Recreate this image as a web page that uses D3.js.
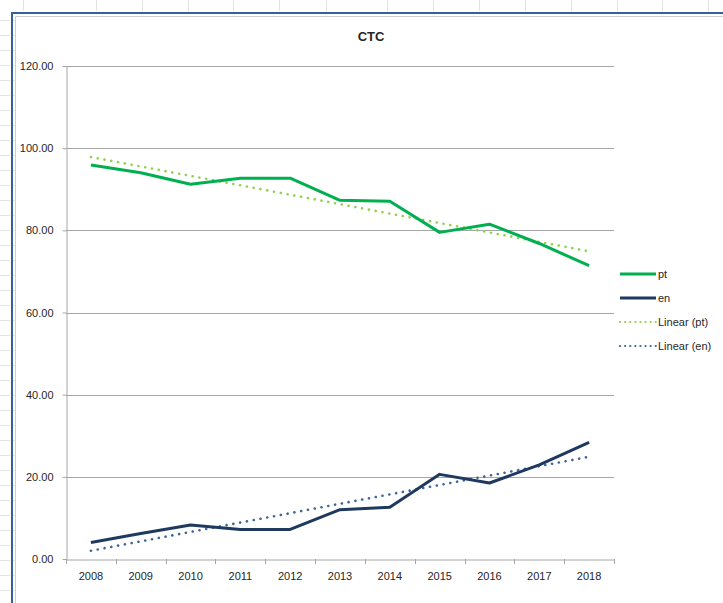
<!DOCTYPE html>
<html>
<head>
<meta charset="utf-8">
<script src="https://cdn.jsdelivr.net/npm/d3@7"></script>
<style>
  html, body { margin: 0; padding: 0; background: #fff; }
  text { font-family: "Liberation Sans", Arial, sans-serif; fill: #262626; }
</style>
</head>
<body>
<div id="chart"></div>
<script>
const years = ['2008', '2009', '2010', '2011', '2012', '2013', '2014', '2015', '2016', '2017', '2018'];
const ptValues = [95.9, 94.0, 91.2, 92.7, 92.7, 87.3, 87.1, 79.5, 81.5, 76.8, 71.4];
const enValues = [4.0, 6.2, 8.3, 7.2, 7.2, 12.0, 12.6, 20.6, 18.5, 22.9, 28.4];
const yTicks = [0, 20, 40, 60, 80, 100, 120];

const W = 723, H = 603;
const svg = d3.select('#chart').append('svg')
  .attr('width', W)
  .attr('height', H);

// spreadsheet cells peeking around the chart object
const sheet = svg.append('g').attr('stroke', '#e3e3e3').attr('stroke-width', 1);
[23, 96, 142, 188, 233, 279, 326, 387, 433, 479, 525, 571, 617, 662, 708].forEach(cxs => {
  sheet.append('line').attr('x1', cxs + 0.5).attr('x2', cxs + 0.5).attr('y1', 0).attr('y2', 11);
});
d3.range(20, H, 15).forEach(ry => {
  sheet.append('line').attr('x1', 0).attr('x2', 10).attr('y1', ry + 0.5).attr('y2', ry + 0.5);
  sheet.append('line').attr('x1', 13).attr('x2', 15).attr('y1', ry + 0.5).attr('y2', ry + 0.5);
});

// chart object frame
svg.append('path')
  .attr('d', `M12,${H} V13 H${W}`)
  .attr('fill', 'none')
  .attr('stroke', '#3a5d9c')
  .attr('stroke-width', 2);
svg.append('path')
  .attr('d', `M15.5,${H} V16.5 H${W}`)
  .attr('fill', 'none')
  .attr('stroke', '#cfcfcf')
  .attr('stroke-width', 1);

const plotLeft = 66, plotRight = 614, plotTop = 66, plotBottom = 559;

const x = d3.scaleBand().domain(years).range([plotLeft, plotRight]).padding(0);
const y = d3.scaleLinear().domain([0, 120]).range([plotBottom, plotTop]);

// gridlines
svg.append('g')
  .selectAll('line')
  .data(yTicks.filter(d => d > 0))
  .join('line')
  .attr('x1', plotLeft)
  .attr('x2', plotRight)
  .attr('y1', d => Math.round(y(d)) + 0.5)
  .attr('y2', d => Math.round(y(d)) + 0.5)
  .attr('stroke', '#a6a6a6')
  .attr('stroke-width', 1);

// y axis
const yAxis = svg.append('g')
  .attr('transform', `translate(${plotLeft + 0.5},0)`)
  .call(d3.axisLeft(y).tickValues(yTicks).tickSize(4).tickSizeOuter(0).tickFormat(d3.format('.2f')));
yAxis.select('.domain').attr('stroke', '#a6a6a6');
yAxis.selectAll('.tick line').attr('stroke', '#a6a6a6');
yAxis.selectAll('.tick text')
  .attr('x', -13)
  .attr('font-size', 11)
  .attr('font-family', '"Liberation Sans", Arial, sans-serif')
  .attr('fill', '#262626');

// x axis with ticks between categories
const xAxis = svg.append('g')
  .attr('transform', `translate(0,${plotBottom + 0.5})`)
  .call(d3.axisBottom(x).tickSize(0).tickSizeOuter(0));
xAxis.select('.domain').attr('stroke', '#a6a6a6');
xAxis.selectAll('.tick text')
  .attr('dy', '1.55em')
  .attr('font-size', 11)
  .attr('font-family', '"Liberation Sans", Arial, sans-serif')
  .attr('fill', '#262626');
svg.append('g')
  .selectAll('line')
  .data(years.concat(['end']))
  .join('line')
  .attr('x1', (d, i) => Math.round(plotLeft + i * x.bandwidth()) + 0.5)
  .attr('x2', (d, i) => Math.round(plotLeft + i * x.bandwidth()) + 0.5)
  .attr('y1', plotBottom)
  .attr('y2', plotBottom + 5)
  .attr('stroke', '#a6a6a6');

// linear trend (least squares)
function trend(values) {
  const n = values.length;
  const xs = d3.range(n);
  const mx = d3.mean(xs), my = d3.mean(values);
  const b = d3.sum(xs, i => (i - mx) * (values[i] - my)) / d3.sum(xs, i => (i - mx) ** 2);
  const a = my - b * mx;
  return xs.map(i => a + b * i);
}

const cx = d => x(d) + x.bandwidth() / 2;
const line = d3.line().x((d, i) => cx(years[i])).y(d => y(d));

const series = [
  { name: 'pt', values: ptValues, color: '#00b050', width: 3, dash: null },
  { name: 'en', values: enValues, color: '#1f3a5f', width: 3, dash: null },
  { name: 'Linear (pt)', values: trend(ptValues), color: '#92d050', width: 2.6, dash: '0.1 6.8' },
  { name: 'Linear (en)', values: trend(enValues), color: '#3f6498', width: 2.6, dash: '0.1 6.8' }
];

// trends drawn first, data lines on top
[series[2], series[3], series[0], series[1]].forEach(s => {
  svg.append('path')
    .datum(s.values)
    .attr('d', line)
    .attr('fill', 'none')
    .attr('stroke', s.color)
    .attr('stroke-width', s.width)
    .attr('stroke-linejoin', 'round')
    .attr('stroke-linecap', s.dash ? 'round' : 'butt')
    .attr('stroke-dasharray', s.dash);
});

// title
svg.append('text')
  .attr('x', 371)
  .attr('y', 41)
  .attr('text-anchor', 'middle')
  .attr('font-size', 13)
  .attr('font-weight', 'bold')
  .attr('fill', '#000')
  .text('CTC');

// legend
const legend = svg.append('g');
series.forEach((s, i) => {
  const ly = 274 + i * 24;
  legend.append('line')
    .attr('x1', 620)
    .attr('x2', 656)
    .attr('y1', ly)
    .attr('y2', ly)
    .attr('stroke', s.color)
    .attr('stroke-width', s.dash ? 2.2 : 3)
    .attr('stroke-linecap', s.dash ? 'round' : 'butt')
    .attr('stroke-dasharray', s.dash ? '0.1 5' : null);
  legend.append('text')
    .attr('x', 658)
    .attr('y', ly + 4)
    .attr('font-size', 11)
    .attr('fill', '#262626')
    .text(s.name);
});
</script>
</body>
</html>
